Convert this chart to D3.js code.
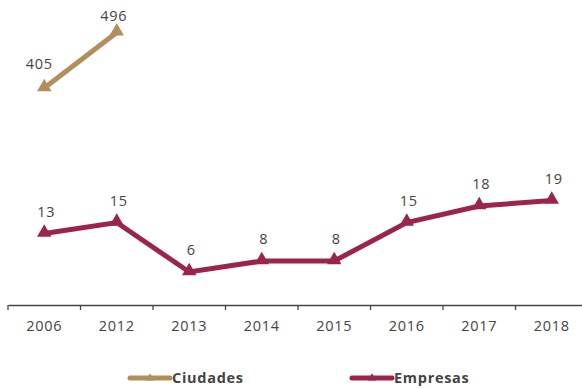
<!DOCTYPE html>
<html><head><meta charset="utf-8">
<script src="https://cdn.jsdelivr.net/npm/d3@7"></script>
<style>body{margin:0;background:#fff}svg{display:block}text{font-family:"Open Sans","Noto Sans",sans-serif;letter-spacing:0.7px}</style>
</head><body>
<svg id="c" width="582" height="389"></svg>
<script>
const categories = ["2006","2012","2013","2014","2015","2016","2017","2018"];
const ciudadesYears = ["2006","2012"];
const ciudadesValues = [405, 496];
const empresasValues = [13, 15, 6, 8, 8, 15, 18, 19];
const seriesNames = ["Ciudades", "Empresas"];
const colors = ["#B38E5D", "#9D2449"];

const svg = d3.select("#c");
const x = d3.scaleBand().domain(categories).range([8, 588]);
const yE = d3.scaleLinear().domain([0, 50]).range([305, 30]);
const yC = d3.scaleLinear().domain([50, 500]).range([305, 30]);
const cx = d => x(d) + x.bandwidth() / 2;

// axis
const ax = svg.append("g").attr("transform", "translate(0,305)")
  .call(d3.axisBottom(x).tickSize(0).tickPadding(18));
ax.select(".domain").attr("stroke", "#444").attr("stroke-width", 1.3);
ax.selectAll("text").attr("font-size", 14.5).attr("fill", "#444").attr("font-family", "'Open Sans',sans-serif").attr("dy", "0.55em");
svg.append("g").selectAll("line").data(categories).join("line")
  .attr("x1", d => x(d)).attr("x2", d => x(d)).attr("y1", 305).attr("y2", 310)
  .attr("stroke", "#444").attr("stroke-width", 1.3);

const tri = d3.symbol().type(d3.symbolTriangle).size(90);

function drawSeries(cats, vals, y, color, off) {
  const pts = cats.map((c, i) => [cx(c), y(vals[i]), vals[i]]);
  svg.append("path").attr("d", d3.line()(pts.map(p => [p[0], p[1]])))
    .attr("fill", "none").attr("stroke", color).attr("stroke-width", 5).attr("stroke-linejoin", "miter");
  svg.append("g").selectAll("path").data(pts).join("path")
    .attr("d", tri).attr("transform", p => `translate(${p[0]},${p[1] - 1})`).attr("fill", color);
  svg.append("g").selectAll("text").data(pts).join("text")
    .attr("x", (p, i) => p[0] + off[i][0]).attr("y", (p, i) => p[1] + off[i][1]).attr("text-anchor", "middle")
    .attr("font-size", 14.5).attr("fill", "#444").text(p => p[2]);
}
drawSeries(ciudadesYears, ciudadesValues, yC, colors[0], [[-5, -19], [-3, -11]]);
drawSeries(categories, empresasValues, yE, colors[1], empresasValues.map(() => [2, -17]));

// legend
const legX = [130, 352];
seriesNames.forEach((n, i) => {
  const g = svg.append("g").attr("transform", `translate(${legX[i]},378)`);
  g.append("line").attr("x1", 0).attr("x2", 40).attr("stroke", colors[i]).attr("stroke-width", 5).attr("stroke-linecap", "round");
  g.append("path").attr("d", d3.symbol().type(d3.symbolTriangle).size(30)).attr("transform", "translate(20,0)").attr("fill", colors[i]);
  g.append("text").attr("x", 42).attr("y", 5).attr("font-size", 14.5).attr("font-weight", "bold").attr("fill", "#444").text(n);
});
</script>
</body></html>
